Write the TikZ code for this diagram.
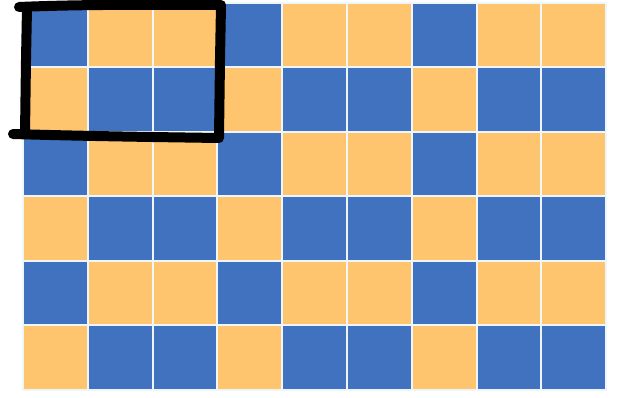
\documentclass[tikz,border=0pt]{standalone}
\definecolor{cellblue}{HTML}{4172C0}
\definecolor{cellyellow}{HTML}{FEC56E}
\definecolor{gapcol}{HTML}{EEF6FA}
\begin{document}
\begin{tikzpicture}[x=1pt,y=-1pt,
  bluecell/.style={fill=cellblue},
  yellowcell/.style={fill=cellyellow},
  marker/.style={line width=10pt,black,line cap=round,line join=round}]
\useasboundingbox (0,0) rectangle (622,398);
\fill[white] (0,0) rectangle (622,398);
\fill[gapcol] (22,2) rectangle (607,391);
\foreach \r in {0,...,5}{
  \foreach \c in {0,...,8}{
    \pgfmathtruncatemacro{\m}{mod(\c,3)}
    \pgfmathtruncatemacro{\p}{mod(\r,2)}
    \pgfmathsetmacro{\xa}{23+64.8*\c+1}
    \pgfmathsetmacro{\xb}{23+64.8*(\c+1)-1}
    \pgfmathsetmacro{\ya}{3+64.5*\r+1}
    \pgfmathsetmacro{\yb}{3+64.5*(\r+1)-1}
    \ifnum\m=0
      \ifnum\p=0 \fill[bluecell] (\xa,\ya) rectangle (\xb,\yb);
      \else \fill[yellowcell] (\xa,\ya) rectangle (\xb,\yb); \fi
    \else
      \ifnum\p=0 \fill[yellowcell] (\xa,\ya) rectangle (\xb,\yb);
      \else \fill[bluecell] (\xa,\ya) rectangle (\xb,\yb); \fi
    \fi
  }
}
\draw[marker] (19,7) .. controls (90,4) and (160,5) .. (221,5)
  -- (220,60) -- (219,138)
  .. controls (150,137) and (80,136) .. (13,134);
\draw[marker] (25,134) -- (26,60) -- (27,8);
\end{tikzpicture}
\end{document}
